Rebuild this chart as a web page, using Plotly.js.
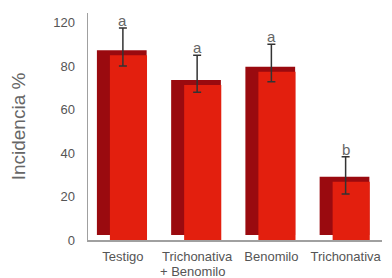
<!DOCTYPE html>
<html>
<head>
<meta charset="utf-8">
<script src="https://cdn.plot.ly/plotly-3.0.1.min.js"></script>
<style>html,body{margin:0;padding:0;background:#fff;}#chart{width:392px;height:278px;}</style>
</head>
<body>
<div id="chart"></div>
<script>
// Data
var categories = ["Testigo", "Trichonativa<br>+ Benomilo", "Benomilo", "Trichonativa"];
var incidence = [85, 71.3, 77.4, 26.8];
var errPlus = [12.5, 13.7, 12.6, 11.5];
var errMinus = [5, 3.3, 4.6, 5.7];
var letters = ["a", "a", "a", "b"];
var yTickVals = [0, 20, 40, 60, 80, 100];
var yTickText = ["0", "20", "40", "60", "80", "120"];

var pos = categories.map(function (c, i) { return i; });
var depth = 2.3; // visual depth of the 3D effect (style)
var FONT = "Liberation Sans, Arial, sans-serif";

var sideTrace = {
  type: "bar", x: pos, y: incidence, base: incidence.map(function () { return depth; }),
  width: 0.67, offset: -0.35,
  marker: { color: "#9a0a0f", line: { width: 0 } },
  hoverinfo: "skip", showlegend: false
};
var frontTrace = {
  type: "bar", x: pos, y: incidence,
  width: 0.5, offset: -0.175,
  marker: { color: "#e31f0e", line: { width: 0 } },
  showlegend: false
};
var errTrace = {
  type: "scatter", mode: "markers", x: pos, y: incidence,
  marker: { size: 1, color: "rgba(0,0,0,0)" },
  error_y: { type: "data", symmetric: false, array: errPlus, arrayminus: errMinus,
             color: "#333333", thickness: 1.5, width: 4 },
  hoverinfo: "skip", showlegend: false
};

var annotations = letters.map(function (t, i) {
  return { x: pos[i], y: incidence[i] + errPlus[i], xref: "x", yref: "y",
           text: t, showarrow: false, yanchor: "bottom", yshift: -3,
           font: { family: FONT, size: 15, color: "#666666" } };
});
// first line of each category goes on the axis; extra lines as annotations below
var firstLines = categories.map(function (c) { return c.split("<br>")[0]; });
categories.forEach(function (c, i) {
  var parts = c.split("<br>");
  if (parts.length > 1) {
    annotations.push({ x: pos[i], y: 0, xref: "x", yref: "paper",
      text: parts.slice(1).join("<br>"), showarrow: false, borderpad: 0,
      xanchor: "center", yanchor: "top", xshift: -5, yshift: -23,
      font: { family: FONT, size: 13, color: "#555555" } });
  }
});

var layout = {
  width: 392, height: 278,
  margin: { l: 88, r: 10, t: 13, b: 38, pad: 0 },
  paper_bgcolor: "#ffffff", plot_bgcolor: "#ffffff",
  font: { family: FONT, size: 13, color: "#555555" },
  barmode: "overlay",
  xaxis: {
    range: [-0.47, 3.49], tickvals: pos, ticktext: firstLines,
    showline: true, linecolor: "#a0a0a0", linewidth: 1.5,
    showgrid: false, zeroline: false, ticks: "", ticklabelstandoff: 4,
    tickfont: { size: 13, color: "#555555" }, fixedrange: true
  },
  yaxis: {
    range: [0, 104.4], tickvals: yTickVals, ticktext: yTickText,
    showline: true, linecolor: "#a0a0a0", linewidth: 1.5,
    showgrid: false, zeroline: false, ticks: "", ticklabelstandoff: 9,
    tickfont: { size: 13, color: "#555555" },
    title: { text: "Incidencia %", standoff: 22,
             font: { family: FONT, size: 19, color: "#666666" } },
    automargin: false, fixedrange: true
  },
  annotations: annotations,
  showlegend: false
};

Plotly.newPlot("chart", [sideTrace, frontTrace, errTrace], layout, { displayModeBar: false, staticPlot: true });
</script>
</body>
</html>
